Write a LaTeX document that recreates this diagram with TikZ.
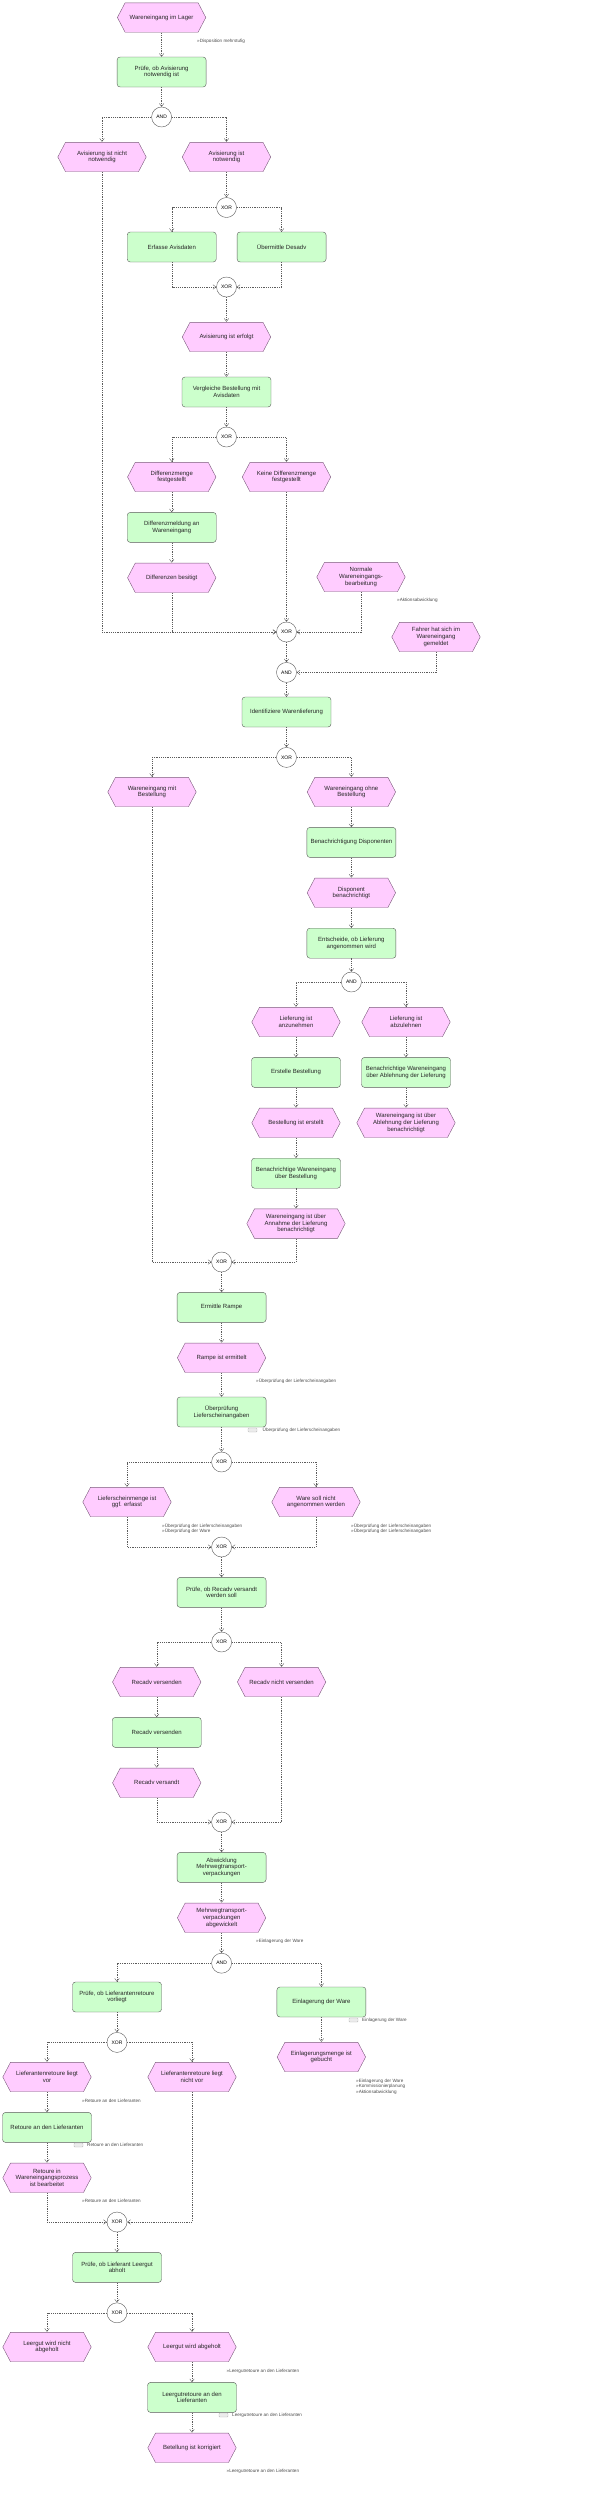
\documentclass[tikz,border=0pt]{standalone}
\usepackage{fontspec}
\setmainfont{Liberation Sans}
\usetikzlibrary{arrows.meta,positioning}
\definecolor{evfill}{HTML}{FFCCFF}
\definecolor{evline}{HTML}{7A5A7A}
\definecolor{fnfill}{HTML}{CCFFCC}
\definecolor{fnline}{HTML}{5A5A5A}
\definecolor{flowgray}{HTML}{5C5C5C}
\newcommand{\epcfont}{\fontsize{6}{6.7}\selectfont}
\newcommand{\epcgate}{\fontsize{5}{6}\selectfont}
\newcommand{\epcnote}{\fontsize{4.6}{5.3}\selectfont}

\begin{document}
\begin{tikzpicture}[x=1pt,y=-1pt,
  fn/.style={draw=fnline,fill=fnfill,rounded corners=3pt,minimum width=89pt,
             minimum height=30pt,inner sep=1pt,align=center,font=\epcfont,text=black!85},
  ev/.style={minimum width=89pt,minimum height=30pt,inner sep=1pt,align=center,
             font=\epcfont,text=black!85,
             path picture={\draw[draw=evline,fill=evfill]
               ([xshift=.3pt]path picture bounding box.west)
               -- ([xshift=8pt,yshift=-.3pt]path picture bounding box.north west)
               -- ([xshift=-8pt,yshift=-.3pt]path picture bounding box.north east)
               -- ([xshift=-.3pt]path picture bounding box.east)
               -- ([xshift=-8pt,yshift=.3pt]path picture bounding box.south east)
               -- ([xshift=8pt,yshift=.3pt]path picture bounding box.south west)
               -- cycle;}},
  evw/.style={ev,minimum width=99pt},
  gate/.style={circle,draw=fnline,fill=white,minimum size=20pt,inner sep=0pt,
               font=\epcgate},
  note/.style={anchor=west,inner sep=0pt,align=left,font=\epcnote,text=black!70},
  ifc/.style={draw=gray!55,fill=gray!15,rounded corners=.8pt,minimum width=9pt,
              minimum height=4pt,inner sep=0pt},
  flow/.style={draw=flowgray,dash pattern=on 1.2pt off 1pt,line width=.4pt,
               -{Straight Barb[length=3pt,width=4.5pt]}},
  node distance=20pt]
  \useasboundingbox (0,0) rectangle (590,2498);

  \node[ev] (lager) at (161.6,17.5) {Wareneingang im Lager};
  \node[note] (nDisp) at (197,41) {»Disposition mehrstufig};
  \node[fn] (pruefAvis) at (161.6,72) {Prüfe, ob Avisierung\\notwendig ist};
  \node[gate] (and1) at (161.6,117) {AND};
  \node[ev] (avisNein) at (102,157) {Avisierung ist nicht\\notwendig};
  \node[ev] (avisJa) at (226.5,157) {Avisierung ist\\notwendig};
  \node[gate] (xor1) at (226.5,207.5) {XOR};
  \node[fn] (erfasse) at (171.75,247) {Erfasse Avisdaten};
  \node[fn] (desadv) at (281.6,247) {Übermittle Desadv};
  \node[gate] (xor2) at (226.5,287) {XOR};
  \node[ev] (avisOk) at (226.5,337) {Avisierung ist erfolgt};
  \node[fn] (vergleiche) at (226.5,392) {Vergleiche Bestellung mit\\Avisdaten};
  \node[gate] (xor3) at (226.5,437) {XOR};
  \node[ev] (diffJa) at (171.75,477) {Differenzmenge\\festgestellt};
  \node[ev] (diffNein) at (286.5,477) {Keine Differenzmenge\\festgestellt};
  \node[fn,below=of diffJa] (diffMeld) {Differenzmeldung an\\Wareneingang};
  \node[ev,below=of diffMeld] (diffWeg) {Differenzen besitigt};
  \node[ev] (normal) at (361,577) {Normale\\Wareneingangs-\\bearbeitung};
  \node[note] (nAktion) at (397,600.7) {»Aktionsabwicklung};
  \node[gate] (xor4) at (286.5,632) {XOR};
  \node[ev] (fahrer) at (436,637) {Fahrer hat sich im\\Wareneingang\\gemeldet};
  \node[gate,below=of xor4] (and2) {AND};
  \node[fn] (ident) at (286.5,712) {Identifiziere Warenlieferung};
  \node[gate,below=of ident] (xor5) {XOR};
  \node[ev] (mitBest) at (152,792) {Wareneingang mit\\Bestellung};
  \node[ev] (ohneBest) at (351.4,792) {Wareneingang ohne\\Bestellung};
  \node[fn,below=of ohneBest] (benDisp) {Benachrichtigung Disponenten};
  \node[ev,below=of benDisp] (dispBen) {Disponent\\benachrichtigt};
  \node[fn,below=of dispBen] (entsch) {Entscheide, ob Lieferung\\angenommen wird};
  \node[gate] (and3) at (351.4,982) {AND};
  \node[ev] (annehmen) at (296,1022) {Lieferung ist\\anzunehmen};
  \node[ev] (ablehnen) at (406,1022) {Lieferung ist\\abzulehnen};
  \node[fn,below=of annehmen] (erstelle) {Erstelle Bestellung};
  \node[fn,below=of ablehnen] (benAbl) {Benachrichtige Wareneingang\\über Ablehnung der Lieferung};
  \node[ev,below=of erstelle] (bestOk) {Bestellung ist erstellt};
  \node[evw,below=of benAbl] (ablOk) {Wareneingang ist über\\Ablehnung der Lieferung\\benachrichtigt};
  \node[fn,below=of bestOk] (benBest) {Benachrichtige Wareneingang\\über Bestellung};
  \node[evw,below=of benBest] (annOk) {Wareneingang ist über\\Annahme der Lieferung\\benachrichtigt};
  \node[gate] (xor6) at (221.6,1262) {XOR};
  \node[fn,below=of xor6] (rampe) {Ermittle Rampe};
  \node[ev,below=of rampe] (rampeOk) {Rampe ist ermittelt};
  \node[note] (nPruef1) at (256,1381) {»Überprüfung der Lieferscheinangaben};
  \node[fn] (ueberpr) at (221.6,1412) {Überprüfung\\Lieferscheinangaben};
  \node[ifc] (icPruef) at (252.5,1430) {};
  \node[note] (nPruef2) at (262.5,1430) {Überprüfung der Lieferscheinangaben};
  \node[gate] (xor7) at (221.6,1462) {XOR};
  \node[ev] (lsMenge) at (127,1502) {Lieferscheinmenge ist\\ggf. erfasst};
  \node[ev] (nichtAnn) at (316,1502) {Ware soll nicht\\angenommen werden};
  \node[note] (nPruef3) at (162,1528.5) {»Überprüfung der Lieferscheinangaben\\»Überprüfung der Ware};
  \node[note] (nPruef4) at (351,1528.5) {»Überprüfung der Lieferscheinangaben\\»Überprüfung der Lieferscheinangaben};
  \node[gate] (xor8) at (221.6,1547) {XOR};
  \node[fn,below=of xor8] (pruefRecadv) {Prüfe, ob Recadv versandt\\werden soll};
  \node[gate] (xor9) at (221.6,1642) {XOR};
  \node[ev] (recJa) at (156.75,1682) {Recadv versenden};
  \node[ev] (recNein) at (281.6,1682) {Recadv nicht versenden};
  \node[fn,below=of recJa] (recSend) {Recadv versenden};
  \node[ev,below=of recSend] (recOk) {Recadv versandt};
  \node[gate] (xor10) at (221.6,1822) {XOR};
  \node[fn,below=of xor10] (mtv) {Abwicklung\\Mehrwegtransport-\\verpackungen};
  \node[ev,below=of mtv] (mtvOk) {Mehrwegtransport-\\verpackungen\\abgewickelt};
  \node[note] (nEinl1) at (256,1941) {»Einlagerung der Ware};
  \node[gate,below=of mtvOk] (and4) {AND};
  \node[fn] (pruefRet) at (117,1997) {Prüfe, ob Lieferantenretoure\\vorliegt};
  \node[fn] (einlag) at (321.4,2002) {Einlagerung der Ware};
  \node[ifc] (icEinl) at (353.5,2020) {};
  \node[note] (nEinl2) at (362,2020) {Einlagerung der Ware};
  \node[gate,below=of pruefRet] (xor11) {XOR};
  \node[ev] (einlagOk) at (321.4,2057) {Einlagerungsmenge ist\\gebucht};
  \node[note] (nEinl3) at (356,2086.5) {»Einlagerung der Ware\\»Kommissionierplanung\\»Aktionsabwicklung};
  \node[ev] (retJa) at (47,2077) {Lieferantenretoure liegt\\vor};
  \node[ev] (retNein) at (192,2077) {Lieferantenretoure liegt\\nicht vor};
  \node[note] (nRet1) at (82,2101) {»Retoure an den Lieferanten};
  \node[fn,below=of retJa] (retoure) {Retoure an den Lieferanten};
  \node[ifc] (icRet) at (78.5,2145) {};
  \node[note] (nRet2) at (87,2145) {Retoure an den Lieferanten};
  \node[ev,below=of retoure] (retOk) {Retoure in\\Wareneingangsprozess\\ist bearbeitet};
  \node[note] (nRet3) at (82,2201) {»Retoure an den Lieferanten};
  \node[gate] (xor12) at (117,2222) {XOR};
  \node[fn,below=of xor12] (leergut) {Prüfe, ob Lieferant Leergut\\abholt};
  \node[gate,below=of leergut] (xor13) {XOR};
  \node[ev] (lgNein) at (47,2347) {Leergut wird nicht\\abgeholt};
  \node[ev] (lgJa) at (192,2347) {Leergut wird abgeholt};
  \node[note] (nLeer1) at (226.5,2371) {»Leergutretoure an den Lieferanten};
  \node[fn,below=of lgJa] (lgRet) {Leergutretoure an den\\Lieferanten};
  \node[ifc] (icLeer) at (223.5,2415) {};
  \node[note] (nLeer2) at (232,2415) {Leergutretoure an den Lieferanten};
  \node[ev,below=of lgRet] (korr) {Betellung ist korrigiert};
  \node[note] (nLeer3) at (226.5,2471) {»Leergutretoure an den Lieferanten};

  \draw[flow] (lager) -- (pruefAvis);
  \draw[flow] (pruefAvis) -- (and1);
  \draw[flow] (and1) -| (avisNein);
  \draw[flow] (and1) -| (avisJa);
  \draw[flow] (avisJa) -- (xor1);
  \draw[flow] (xor1) -| (erfasse);
  \draw[flow] (xor1) -| (desadv);
  \draw[flow] (erfasse) |- (xor2);
  \draw[flow] (desadv) |- (xor2);
  \draw[flow] (xor2) -- (avisOk);
  \draw[flow] (avisOk) -- (vergleiche);
  \draw[flow] (vergleiche) -- (xor3);
  \draw[flow] (xor3) -| (diffJa);
  \draw[flow] (xor3) -| (diffNein);
  \draw[flow] (diffJa) -- (diffMeld);
  \draw[flow] (diffMeld) -- (diffWeg);
  \draw[flow] (avisNein) |- (xor4);
  \draw[flow] (diffWeg) |- (xor4);
  \draw[flow] (diffNein) -- (xor4);
  \draw[flow] (normal) |- (xor4);
  \draw[flow] (xor4) -- (and2);
  \draw[flow] (fahrer) |- (and2);
  \draw[flow] (and2) -- (ident);
  \draw[flow] (ident) -- (xor5);
  \draw[flow] (xor5) -| (mitBest);
  \draw[flow] (xor5) -| (ohneBest);
  \draw[flow] (ohneBest) -- (benDisp);
  \draw[flow] (benDisp) -- (dispBen);
  \draw[flow] (dispBen) -- (entsch);
  \draw[flow] (entsch) -- (and3);
  \draw[flow] (and3) -| (annehmen);
  \draw[flow] (and3) -| (ablehnen);
  \draw[flow] (annehmen) -- (erstelle);
  \draw[flow] (erstelle) -- (bestOk);
  \draw[flow] (bestOk) -- (benBest);
  \draw[flow] (benBest) -- (annOk);
  \draw[flow] (ablehnen) -- (benAbl);
  \draw[flow] (benAbl) -- (ablOk);
  \draw[flow] (mitBest) |- (xor6);
  \draw[flow] (annOk) |- (xor6);
  \draw[flow] (xor6) -- (rampe);
  \draw[flow] (rampe) -- (rampeOk);
  \draw[flow] (rampeOk) -- (ueberpr);
  \draw[flow] (ueberpr) -- (xor7);
  \draw[flow] (xor7) -| (lsMenge);
  \draw[flow] (xor7) -| (nichtAnn);
  \draw[flow] (lsMenge) |- (xor8);
  \draw[flow] (nichtAnn) |- (xor8);
  \draw[flow] (xor8) -- (pruefRecadv);
  \draw[flow] (pruefRecadv) -- (xor9);
  \draw[flow] (xor9) -| (recJa);
  \draw[flow] (xor9) -| (recNein);
  \draw[flow] (recJa) -- (recSend);
  \draw[flow] (recSend) -- (recOk);
  \draw[flow] (recOk) |- (xor10);
  \draw[flow] (recNein) |- (xor10);
  \draw[flow] (xor10) -- (mtv);
  \draw[flow] (mtv) -- (mtvOk);
  \draw[flow] (mtvOk) -- (and4);
  \draw[flow] (and4) -| (pruefRet);
  \draw[flow] (and4) -| (einlag);
  \draw[flow] (einlag) -- (einlagOk);
  \draw[flow] (pruefRet) -- (xor11);
  \draw[flow] (xor11) -| (retJa);
  \draw[flow] (xor11) -| (retNein);
  \draw[flow] (retJa) -- (retoure);
  \draw[flow] (retoure) -- (retOk);
  \draw[flow] (retOk) |- (xor12);
  \draw[flow] (retNein) |- (xor12);
  \draw[flow] (xor12) -- (leergut);
  \draw[flow] (leergut) -- (xor13);
  \draw[flow] (xor13) -| (lgNein);
  \draw[flow] (xor13) -| (lgJa);
  \draw[flow] (lgJa) -- (lgRet);
  \draw[flow] (lgRet) -- (korr);
\end{tikzpicture}
\end{document}
